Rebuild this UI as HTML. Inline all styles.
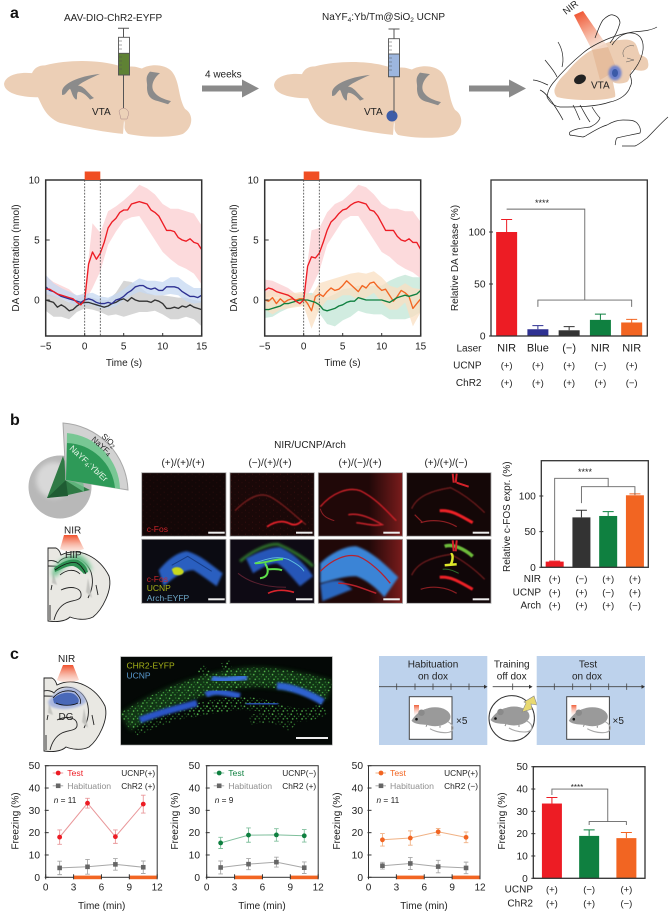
<!DOCTYPE html>
<html lang="en">
<head>
<meta charset="utf-8">
<title>NIR upconversion optogenetics figure</title>
<style>
html,body{margin:0;padding:0;background:#fff;width:672px;height:912px;overflow:hidden}
svg{display:block;font-family:"Liberation Sans",sans-serif}
text{fill:#222;font-size:10px}
</style>
</head>
<body>
<svg id="figure" width="672" height="912" viewBox="0 0 672 912" xmlns="http://www.w3.org/2000/svg">
<defs>
<linearGradient id="coneRed" x1="0" y1="0" x2="0" y2="1"><stop offset="0" stop-color="#f0502c"/><stop offset="1" stop-color="#f7b9a4" stop-opacity=".35"/></linearGradient>
<linearGradient id="nirBeam" x1="0" y1="0" x2="0.45" y2="1"><stop offset="0" stop-color="#ef4a26"/><stop offset=".65" stop-color="#f6b29c"/><stop offset="1" stop-color="#f4d8c8" stop-opacity=".8"/></linearGradient>
<linearGradient id="smallNir" x1="0" y1="0" x2="0" y2="1"><stop offset="0" stop-color="#f0603a"/><stop offset="1" stop-color="#fff" stop-opacity=".2"/></linearGradient>
<linearGradient id="redEdge" x1="0" y1="0" x2="1" y2="0"><stop offset=".6" stop-color="#200808"/><stop offset="1" stop-color="#7a1c1c"/></linearGradient>
<filter id="blur1" x="-30%" y="-30%" width="160%" height="160%"><feGaussianBlur stdDeviation="1"/></filter>
<filter id="blur2" x="-30%" y="-30%" width="160%" height="160%"><feGaussianBlur stdDeviation="2.5"/></filter>
<filter id="blurS" x="-30%" y="-30%" width="160%" height="160%"><feGaussianBlur stdDeviation=".45"/></filter>
<pattern id="greenDots" width="13" height="11" patternUnits="userSpaceOnUse" patternTransform="scale(.72)">
<circle cx="1.5" cy="2" r="1.1" fill="#5cc252"/><circle cx="6" cy="5" r="1" fill="#3c9a3a"/><circle cx="10" cy="1.5" r=".9" fill="#2f8030"/><circle cx="3.5" cy="8.5" r="1.1" fill="#58bf50"/><circle cx="9" cy="8" r="1" fill="#46a844"/><circle cx="12" cy="5" r=".8" fill="#2b702c"/>
</pattern>
<pattern id="redDots" width="7" height="6" patternUnits="userSpaceOnUse">
<circle cx="1.5" cy="1.5" r=".5" fill="#5a1616"/><circle cx="5" cy="4" r=".5" fill="#451010"/>
</pattern>
<clipPath id="clipImgC"><rect x="120.7" y="656.7" width="211.6" height="88.3"/></clipPath>

<g id="sagittalBrain" transform="scale(1 .778)">
<path d="M4,108 C5,98 16,92 32,94 C34,88 38,84 45,84 C70,76 100,77 120,85 L120,97 L127,97 L127,86 C135,84 140,88 142,88 C150,82 165,82 172,92 C180,105 178,125 185,140 C195,148 192,165 183,172 C170,178 140,176 128,172 C122,165 126,160 124,155 L123,172 C105,170 85,165 60,158 C45,150 42,135 38,125 C25,125 5,122 4,108 Z" fill="#eccfb6"/>
<path d="M62,118 C62,108 78,98 100,95 C92,100 84,104 78,110 C84,110 88,120 94,126 L90,128 C86,122 82,118 78,118 C76,122 78,128 76,128 C72,124 72,118 70,114 C66,118 66,122 62,122 Z" fill="#8b8b8b"/>
<path d="M150,92 C144,100 148,106 147,112 C147,122 150,128 158,130 L168,134 L171,130 C164,128 157,124 154,118 C150,110 154,100 160,94 Z" fill="#8b8b8b"/>
</g>

<g id="coronalOutline">
<path d="M48,548 L56,548 C60,550 60,553 61,555 C80,546 100,558 109,576 C113,590 102,610 93,617 C85,621 75,619 70,617 C65,622 55,622 48,621 Z" fill="#e9e8e3" stroke="#222" stroke-width=".9"/>
<path d="M48,561 C52,560 56,561 58,563 C62,557 70,556 77,558 C84,561 88,565 91,572 M48,566 C53,566 58,566 60,567" stroke="#222" stroke-width=".9" fill="none"/>
<path d="M61,590 C72,585 82,588 81,596 C80,601 72,600 66,603 C60,606 56,612 54,620 M91,572 C94,582 92,590 88,598 M96,585 L98,595 M52,585 L51,590 M50,605 L50,620" stroke="#222" stroke-width=".9" fill="none"/>
<path d="M53,572 L57,585 L52,583 Z M88,578 L92,598 L86,592 Z" fill="#c4c4c0" filter="url(#blurS)"/>
</g>

<g id="rodent">
<ellipse cx="0" cy="0" rx="15.5" ry="9.5" fill="#9a9a9a"/>
<path d="M-8,-8 C-14,-7 -20,-2 -23.5,4 C-20,8 -12,8 -4,8 Z" fill="#9a9a9a"/>
<ellipse cx="-13.5" cy="-4" rx="3.2" ry="3.2" fill="#8a8a8a"/>
<circle cx="-18.5" cy="2.5" r="1.3" fill="#111"/>
<path d="M13,5 C20,9 20,16 10,16 C4,16 -2,14 -5,12" fill="none" stroke="#a8a8a8" stroke-width="1.1"/>
<path d="M-8,8 l-1,2 M5,9 l0,2" stroke="#888" stroke-width="1"/>
</g>
</defs>

<!-- PANEL A ILLUSTRATIONS -->
<text x="10" y="18" style="font-size:16px;font-weight:bold;fill:#111">a</text>
<use href="#sagittalBrain"/>
<path d="M119,111 a5,5 0 1,1 9,5 l-1,3 l-6,0 z" fill="#ecd2b8" stroke="#a88" stroke-width=".5"/>
<text x="92" y="115">VTA</text>
<text x="64" y="21">AAV-DIO-ChR2-EYFP</text>
<g>
<path d="M118,28.3 h11 M123.5,28.3 v9 M123.5,75 V108" stroke="#555" stroke-width="1" fill="none"/>
<rect x="118.5" y="37.3" width="11" height="37.7" fill="#fff" stroke="#555" stroke-width=".9"/>
<rect x="118.5" y="53.3" width="11" height="21.7" fill="#5f8234" stroke="#555" stroke-width=".9"/>
<path d="M119,41h3M119,45h3M119,49h3M119,57h3M119,61h3M119,65h3M119,69h3" stroke="#555" stroke-width=".6"/>
</g>
<g><path d="M202,85.5 H242 V79.5 L259,88.5 L242,97.5 V91.5 H202 Z" fill="#8a8a8a"/></g>
<text x="205" y="77.5">4 weeks</text>
<use href="#sagittalBrain" x="270" y="1"/>
<ellipse cx="392" cy="116" rx="5.5" ry="5.5" fill="#3d5da8"/>
<text x="364" y="115">VTA</text>
<text x="322" y="20">NaYF<tspan dy="2" style="font-size:6.5px">4</tspan><tspan dy="-2">:Yb/Tm@SiO</tspan><tspan dy="2" style="font-size:6.5px">2</tspan><tspan dy="-2"> UCNP</tspan></text>
<g>
<path d="M388.5,29 h11 M394,29 v9.7 M394,76.7 V113" stroke="#555" stroke-width="1" fill="none"/>
<rect x="388.5" y="38.7" width="11" height="38" fill="#fff" stroke="#555" stroke-width=".9"/>
<rect x="388.5" y="54" width="11" height="22.7" fill="#9db6de" stroke="#555" stroke-width=".9"/>
<path d="M389,42h3M389,46h3M389,50h3M389,58h3M389,62h3M389,66h3M389,70h3" stroke="#555" stroke-width=".6"/>
</g>
<g><path d="M469,85.5 H509 V79.5 L526,88.5 L509,97.5 V91.5 H469 Z" fill="#8a8a8a"/></g>

<g>
<path d="M555,88 C558,80 563,76 567,72 C575,62 584,54 592,50 C600,46 610,40 620,40 C628,39 632,40 635,43 C638,47 638,52 640,55 C644,56 648,58 648,62 C649,66 648,69 645,70 C640,72 636,69 632,70 C630,74 630,80 627,82 C622,84 616,84 613,82 C614,88 616,94 615,97 C606,100 596,100 587,100 C576,100 565,99 557,97 C554,94 554,90 555,88 Z" fill="#eccdb3"/>
<path d="M592,50 L608,47 L617,70 L600,80 Z" fill="#e6bd9d"/>
<path d="M574,15 L583,11 L608,47 L592,50 Z" fill="url(#nirBeam)"/>
<ellipse cx="615" cy="73" rx="6.5" ry="7.5" fill="#6f82cc" filter="url(#blur1)"/>
<ellipse cx="615" cy="73" rx="3" ry="4" fill="#3b5aa8"/>
<ellipse cx="580" cy="79.3" rx="6.2" ry="4.5" fill="#222" transform="rotate(-25 580 79.3)"/>
<path d="M547,97 C548,90 550,87 553,83 C562,72 572,62 583,53 C590,47 600,42 610,38 C618,35 626,33 633,32 C642,31 650,31 657,27" fill="none" stroke="#222" stroke-width=".7"/>
<path d="M595,38 C598,30 600,24 603,20 C607,16 611,14 613,15 C618,16 620,20 620,23 C618,30 614,38 610,43" fill="none" stroke="#222" stroke-width=".7"/>
<path d="M612,45 C618,36 626,32 632,33 C640,34 644,40 643,50 C642,58 638,66 630,75 C632,80 632,84 630,87 C628,94 620,100 610,102 C596,107 576,107 560,107 C553,106 549,101 547,97" fill="none" stroke="#222" stroke-width=".7"/>
<path d="M558,42 C563,50 564,60 562,67 M545,60 C550,66 555,72 557,77 M533,80 C538,80 543,83 548,85 M540,90 C545,92 549,98 552,102 C556,108 560,114 563,120 M573,105 C576,110 578,116 580,120 M580,105 C584,112 587,118 590,122" fill="none" stroke="#222" stroke-width=".7"/>
<path d="M592,107 C595,112 597,115 600,118 C598,123 594,125 590,127 C584,128 576,128 570,132 C568,135 572,136 570,135 L583,137 C586,136 587,135 587,135 C594,131 600,127 607,125 C612,122 618,120 623,120 C630,120 634,120 637,123 C640,126 641,130 640,133 C632,135 624,136 617,138 C615,140 616,144 615,145 M622,146 L635,146 C640,144 644,140 647,138 C654,131 660,124 668,117" fill="none" stroke="#222" stroke-width=".7"/>
<path d="M624,57 C620,50 628,44 634,46 M627,58 L634,60 L626,62" fill="none" stroke="#555" stroke-width=".5"/>
<text x="591" y="88.5">VTA</text>
<text x="566" y="15" style="font-size:9.5px" transform="rotate(-38 566 15)">NIR</text>
</g>

<!-- PANEL B ILLUSTRATIONS -->
<text x="10" y="425" style="font-size:16px;font-weight:bold;fill:#111">b</text>
<g>
<circle cx="60" cy="487" r="31.5" fill="#b8b8b8"/>
<circle cx="54" cy="480" r="18" fill="#d8d8d8" filter="url(#blur2)"/>
<path d="M63,456 L47,498 L68,495 L90,490 L70,480 Z" fill="#2f7a45"/>
<path d="M47,498 L66,480 L68,496 Z" fill="#1f5c33"/>
<path d="M84,492 A42,42 0 0 0 66,456 L65,480 Z" fill="#6bc088" opacity=".8"/>
<path d="M63,423 A70,70 0 0 1 128,490 L66,480 Z" fill="#d2d2d2" stroke="#a8a8a8" stroke-width="1"/>
<path d="M67,433 A58,58 0 0 1 120,489 L66,480 Z" fill="#78c794"/>
<path d="M67,443 A50,50 0 0 1 115,488 L66,480 Z" fill="#2e9a58"/>
<text x="101" y="437" style="font-size:8px" transform="rotate(42 101 437)">SiO<tspan dy="1.5" style="font-size:6px">2</tspan></text>
<text x="91" y="440" style="font-size:8px" transform="rotate(42 91 440)">NaYF<tspan dy="1.5" style="font-size:6px">4</tspan></text>
<text x="69" y="449" style="font-size:8.5px;fill:#e8f5e8" transform="rotate(43 69 449)">NaYF<tspan dy="1.5" style="font-size:6px;fill:#e8f5e8">4</tspan><tspan dy="-1.5" style="fill:#e8f5e8">:Yb/Er</tspan></text>
</g>
<g>
<use href="#coronalOutline"/>
<path d="M64,535 L77,535 L84,549 C76,552 66,552 60,549 Z" fill="url(#coneRed)"/>
<path d="M52,572 C58,560 70,553 80,555 C86,558 90,564 92,570 C86,572 80,562 74,562 C68,562 60,572 54,578 Z" fill="#6cc18c" filter="url(#blur2)"/>
<path d="M54,568 C62,562 70,558 78,560 C82,562 87,566 88,572 L84,574 C80,570 76,566 72,566 C66,566 60,570 55,572 Z" fill="#2d9152"/>
<path d="M55,570 C62,565 70,561 77,563 C81,565 84,570 86,574 M60,575 C66,570 74,568 80,574" stroke="#111" stroke-width=".8" fill="none"/>
<text x="64" y="533.5">NIR</text>
<text x="65" y="558">HIP</text>
</g>

<text x="310" y="448" text-anchor="middle">NIR/UCNP/Arch</text>
<text x="183" y="466" text-anchor="middle">(+)/(+)/(+)</text>
<text x="270" y="466" text-anchor="middle">(−)/(+)/(+)</text>
<text x="360" y="466" text-anchor="middle">(+)/(−)/(+)</text>
<text x="446" y="466" text-anchor="middle">(+)/(+)/(−)</text>

<!-- Microscopy: top row -->
<g transform="translate(141.7 472.7)">
<rect width="84.3" height="63.5" fill="#130707" stroke="#a8a8a8" stroke-width=".8"/>
<rect width="84.3" height="63.5" fill="url(#redDots)" opacity=".45"/>
<rect x="66.5" y="59" width="16.5" height="2" fill="#eee"/>
<text x="5" y="59.5" style="font-size:8.5px;fill:#c8242a">c-Fos</text>
</g>
<g transform="translate(230 472.7)">
<rect width="84.3" height="63.5" fill="#1a0808" stroke="#a8a8a8" stroke-width=".8"/>
<rect width="84.3" height="63.5" fill="url(#redDots)" opacity=".6"/>
<path d="M5,38 C15,28 28,18 40,24 C52,30 66,44 76,52" fill="none" stroke="#6e1d1d" stroke-width="1.5" filter="url(#blurS)"/>
<path d="M37,54 C46,48 54,48 60,51 C64,53 68,52 72,48" fill="none" stroke="#e8232a" stroke-width="1.8" filter="url(#blurS)"/>
<rect x="66" y="59" width="16.5" height="2" fill="#eee"/>
</g>
<g transform="translate(318.3 472.7)">
<rect width="84.3" height="63.5" fill="url(#redEdge)" stroke="#a8a8a8" stroke-width=".8"/>
<path d="M2,34 C14,20 30,14 42,18 C58,26 68,38 78,48" fill="none" stroke="#d6222a" stroke-width="1.3" filter="url(#blurS)"/>
<path d="M2,36 C4,44 10,46 16,48" fill="none" stroke="#8c1f24" stroke-width="1"/>
<path d="M30,42 C42,40 54,46 64,52 C54,54 44,50 38,50" fill="none" stroke="#c9242a" stroke-width="1.5" filter="url(#blurS)"/>
<rect x="65" y="59" width="16.5" height="2" fill="#eee"/>
</g>
<g transform="translate(406.7 472.7)">
<rect width="84.3" height="63.5" fill="#140707" stroke="#a8a8a8" stroke-width=".8"/>
<path d="M5,36 C10,24 24,18 44,15 C58,22 70,32 78,40" fill="none" stroke="#6e1a1e" stroke-width="1.3" filter="url(#blurS)"/>
<path d="M46,1 L47,10 M50,1 L49,10 M50,10 L62,14" stroke="#d4222a" stroke-width="2" fill="none"/>
<path d="M33,38 C44,37 52,42 66,50" fill="none" stroke="#ed2028" stroke-width="3" filter="url(#blurS)"/>
<path d="M14,50 C26,46 40,48 50,54 M8,42 L16,50" fill="none" stroke="#8c1e22" stroke-width="1.2"/>
<rect x="66" y="59" width="16.5" height="2" fill="#eee"/>
</g>
<!-- Microscopy: bottom row -->
<g transform="translate(141.7 539.3)">
<rect width="84.3" height="64" fill="#0b0b12" stroke="#a8a8a8" stroke-width=".8"/>
<path d="M17,31 C26,20 36,13 45,12 C58,15 70,26 81,34 L75,47 C68,42 60,36 52,31 C42,30 30,40 22,47 Z" fill="#2a5fc0" filter="url(#blur1)"/>
<path d="M30,26 L46,17 L70,32" stroke="#173c86" stroke-width="1" fill="none"/>
<path d="M30,30 C34,26 40,28 42,32 C42,36 36,37 32,35 Z" fill="#c8d81e" filter="url(#blurS)"/>
<rect x="66.5" y="59" width="16.5" height="2" fill="#eee"/>
<text x="5" y="42.5" style="font-size:8.5px;fill:#c8242a">c-Fos</text>
<text x="5" y="51.5" style="font-size:8.5px;fill:#a8b418">UCNP</text>
<text x="5" y="61.5" style="font-size:8.5px;fill:#6ea8c8">Arch-EYFP</text>
</g>
<g transform="translate(230 539.3)">
<rect width="84.3" height="64" fill="#0e0a14" stroke="#a8a8a8" stroke-width=".8"/>
<path d="M10,22 C22,12 38,4 48,5 C60,10 74,18 83,27" fill="none" stroke="#2e6e2a" stroke-width="3" filter="url(#blur1)"/>
<path d="M16,19 C28,13 40,8 50,8 C64,14 76,26 83,37 L70,47 C62,38 54,28 47,24 C38,24 30,30 23,34 Z" fill="#2857b8" filter="url(#blur1)"/>
<path d="M24,24 C36,20 46,16 58,20 C66,24 72,28 74,32" stroke="#60c0e0" stroke-width=".9" fill="none"/>
<path d="M25,24 C34,24 44,20 53,20 M35,24 C40,32 38,38 30,39 M38,30 C44,30 48,29 52,31" stroke="#5ee04a" stroke-width="2" fill="none"/>
<path d="M8,34 C18,42 34,48 56,48" stroke="#5a2030" stroke-width="1" fill="none"/>
<path d="M38,54 C46,50 54,50 64,53" stroke="#d8242c" stroke-width="1.6" fill="none"/>
<rect x="66" y="59" width="16.5" height="2" fill="#eee"/>
</g>
<g transform="translate(318.3 539.3)">
<rect width="84.3" height="64" fill="url(#redEdge)" stroke="#a8a8a8" stroke-width=".8"/>
<path d="M2,24 C12,14 28,6 38,7 C54,12 70,28 80,38 L66,58 C56,46 46,40 38,37 C26,36 12,42 2,44 Z" fill="#3a84d6" filter="url(#blur1)"/>
<path d="M2,45 C10,42 18,40 24,42 L34,50 L4,62 Z" fill="#2a68c0" filter="url(#blur1)"/>
<path d="M2,32 C14,20 28,14 40,17 C52,22 64,34 72,44" fill="none" stroke="#b52230" stroke-width="1.3"/>
<path d="M20,44 C34,44 46,50 58,54" fill="none" stroke="#b5202a" stroke-width="1.5"/>
<rect x="65" y="59" width="16.5" height="2" fill="#eee"/>
</g>
<g transform="translate(406.7 539.3)">
<rect width="84.3" height="64" fill="#100608" stroke="#a8a8a8" stroke-width=".8"/>
<path d="M5,36 C10,24 24,18 44,15 C58,22 70,32 78,40" fill="none" stroke="#6e1a1e" stroke-width="1.3" filter="url(#blurS)"/>
<path d="M38,7 C46,4 58,10 66,17" stroke="#6dbb3a" stroke-width="3.5" fill="none" filter="url(#blurS)"/>
<path d="M46,1 L47,12 M50,1 L49,12" stroke="#d4222a" stroke-width="2" fill="none"/>
<path d="M44,15 C47,14 46,22 44,25 M38,26 L50,25" stroke="#dfe82a" stroke-width="2.5" fill="none"/>
<path d="M36,30 C42,29 48,32 52,34" stroke="#2e6e2a" stroke-width="1" fill="none"/>
<path d="M33,38 C44,37 52,42 66,50" fill="none" stroke="#ed2028" stroke-width="3" filter="url(#blurS)"/>
<path d="M14,50 C26,46 40,48 50,54" fill="none" stroke="#8c1e22" stroke-width="1.2"/>
<rect x="66" y="59" width="16.5" height="2" fill="#eee"/>
</g>

<!-- PANEL C ILLUSTRATIONS -->
<text x="10" y="659" style="font-size:16px;font-weight:bold;fill:#111">c</text>
<g>
<use href="#coronalOutline" x="-4" y="130"/>
<path d="M63,665 L73,665 L79,680 C72,683 62,683 57,680 Z" fill="url(#coneRed)"/>
<path d="M48,702 C54,692 64,686 74,688 C82,692 86,698 86,702 C80,708 62,712 50,706 Z" fill="#a9b6de" filter="url(#blur1)"/>
<path d="M53,699 C58,694 66,691 74,694 C78,697 80,700 78,703 C70,707 60,706 54,703 Z" fill="#4968b8"/>
<path d="M53,698 C58,692 66,689 75,692 C79,696 82,700 80,704 M56,703 C62,706 72,706 78,703" stroke="#111" stroke-width=".8" fill="none"/>
<text x="58" y="662">NIR</text>
<text x="58.5" y="720">DG</text>
</g>
<g>
<rect x="120.7" y="656.7" width="211.6" height="88.3" fill="#040806" stroke="#999" stroke-width=".6"/>
<g clip-path="url(#clipImgC)">
<path d="M125,722 C160,700 185,690 215,683 S265,672 330,690" fill="none" stroke="#1c5a20" stroke-width="20" opacity=".55" filter="url(#blur2)"/>
<path d="M125,722 C160,700 185,690 215,683 S265,672 330,690" fill="none" stroke="url(#greenDots)" stroke-width="20"/>
<path d="M190,712 C210,706 240,700 265,706 S300,722 325,708" fill="none" stroke="url(#greenDots)" stroke-width="13"/>
<path d="M225,662 L235,690 M200,668 L210,676" fill="none" stroke="url(#greenDots)" stroke-width="9"/>
<path d="M135,732 C165,716 195,708 228,708 M250,720 C270,715 285,720 292,728" fill="none" stroke="url(#greenDots)" stroke-width="10" opacity=".8"/>
<path d="M140,720 C160,712 180,708 197,703" fill="none" stroke="#2a55c8" stroke-width="6.5" filter="url(#blur1)"/>
<path d="M206,695 C214,690 222,692 240,696" fill="none" stroke="#2f5ccc" stroke-width="6" filter="url(#blur1)"/>
<path d="M212,678 C222,682 236,678 247,677" fill="none" stroke="#3a70d8" stroke-width="6" filter="url(#blur1)"/>
<path d="M277,686 C290,686 310,694 323,702" fill="none" stroke="#2f62d0" stroke-width="7" filter="url(#blur1)"/>
<path d="M246,704 C256,704 268,703 278,704" fill="none" stroke="#2a55b8" stroke-width="4" filter="url(#blur1)"/>
</g>
<rect x="296" y="737" width="32" height="2" fill="#eee"/>
<text x="126.5" y="668.5" style="font-size:8.5px;fill:#a8b418">CHR2-EYFP</text>
<text x="126.5" y="678.5" style="font-size:8.5px;fill:#5a9ad0">UCNP</text>
</g>

<g>
<rect x="379" y="656" width="108.3" height="89" fill="#bdd2ec"/>
<text x="433" y="667.5" text-anchor="middle">Habituation</text>
<text x="433" y="679.5" text-anchor="middle">on dox</text>
<path d="M379,686.7 H485 M396.7,683.5v6.4 M415,683.5v6.4 M433,683.5v6.4 M451,683.5v6.4 M469,683.5v6.4" stroke="#444" stroke-width=".8"/>
<path d="M484,684.7 L487.5,686.7 L484,688.7Z" fill="#333"/>
<rect x="409.3" y="696.7" width="42.7" height="42.6" fill="#fff" stroke="#444" stroke-width="1"/>
<rect x="414" y="705" width="5" height="12" fill="url(#smallNir)"/>
<use href="#rodent" x="435" y="716.7"/>
<text x="456" y="724">×5</text>
</g>
<g>
<text x="511.7" y="667.5" text-anchor="middle">Training</text>
<text x="511.7" y="679.5" text-anchor="middle">off dox</text>
<path d="M492.7,686.7 H530 M512.7,683.5v6.4" stroke="#444" stroke-width=".8"/>
<path d="M529,684.7 L532.5,686.7 L529,688.7Z" fill="#333"/>
<circle cx="511.7" cy="718.3" r="22.7" fill="#fff" stroke="#333" stroke-width="1"/>
<use href="#rodent" x="514" y="716"/>
<path d="M534,696 L537,705 L531,704 L532,709 L522,712 L526,703 L524,702 Z" fill="#e8d970" stroke="#888" stroke-width=".6"/>
</g>
<g>
<rect x="536.7" y="656" width="108.3" height="89" fill="#bdd2ec"/>
<text x="588" y="667.5" text-anchor="middle">Test</text>
<text x="587" y="679.5" text-anchor="middle">on dox</text>
<path d="M536.7,686.7 H643 M554.3,683.5v6.4 M572.7,683.5v6.4 M590.7,683.5v6.4 M608.7,683.5v6.4 M626.7,683.5v6.4" stroke="#444" stroke-width=".8"/>
<path d="M641.5,684.7 L645,686.7 L641.5,688.7Z" fill="#333"/>
<rect x="566.7" y="696.7" width="42.7" height="42.6" fill="#fff" stroke="#444" stroke-width="1"/>
<rect x="571.4" y="705" width="5" height="12" fill="url(#smallNir)"/>
<use href="#rodent" x="592.3" y="716.7"/>
<text x="612.5" y="724">×5</text>
</g>

<g id="charts"></g>
</svg>

<script>
// ---- Dopamine traces, sampled every 0.5 s from -5 to 15 s ----
const a1RedMean = [0.9,0.9,0.7,0.5,0.4,0.3,0.2,0.1,-0.2,-0.4,0.0,3.0,4.0,3.4,3.9,4.8,6.0,6.5,6.8,7.3,7.5,7.5,8.0,8.1,8.2,8.1,8.0,7.5,7.3,7.0,6.4,5.8,5.8,5.7,5.2,5.0,4.9,5.1,4.8,4.7,4.2];
const a1BlueMean = [1.1,0.8,0.7,0.5,0.3,0.2,0.1,0.0,-0.1,-0.2,0.0,0.1,0.0,-0.2,-0.3,-0.3,-0.2,-0.3,0.0,0.1,0.3,0.6,0.8,1.1,1.2,1.2,1.0,0.9,1.0,0.8,0.8,1.1,1.1,1.1,1.0,0.7,0.5,0.3,0.3,0.2,0.4];
const a1BlackMean = [0.0,-0.1,-0.2,-0.6,-0.4,-0.6,-0.9,-0.8,-0.5,-0.3,-0.2,-0.2,-0.3,-0.4,-0.5,-0.6,-0.5,-0.3,-0.2,0.0,0.1,-0.1,0.2,0.0,-0.1,-0.1,-0.1,-0.2,0.0,-0.1,-0.3,-0.7,-0.7,-0.6,-0.7,-0.5,-0.6,-0.4,-0.6,-0.7,-0.8];
const a2RedMean = [0.8,1.0,0.9,0.7,0.6,0.5,0.4,0.2,-0.1,-0.3,0.0,2.8,3.6,3.5,3.9,4.8,5.8,6.5,6.8,7.2,7.5,7.6,7.9,8.1,8.2,8.1,8.0,7.5,7.4,7.0,6.4,5.8,5.8,5.8,5.3,5.0,4.9,5.1,4.8,4.8,4.2];
const a2GreenMean = [-0.8,-0.8,-0.7,-0.6,-0.5,-0.3,-0.3,-0.2,-0.1,0.0,0.0,0.0,-0.1,-0.2,-0.4,-0.8,-0.9,-0.8,-0.7,-0.5,-0.4,-0.2,-0.1,-0.1,0.2,0.1,0.0,0.0,0.0,0.0,0.0,-0.1,-0.2,0.0,0.2,0.3,0.4,0.3,0.4,0.5,0.8];
const a2OrangeMean = [0.0,-0.1,0.2,-0.3,0.1,-0.2,0.0,0.1,0.0,0.1,0.1,-0.3,-0.9,0.3,0.5,0.3,0.7,1.0,0.8,0.9,1.2,1.6,1.3,1.0,0.7,1.2,1.0,1.4,1.5,1.1,0.8,0.9,0.4,-0.1,0.3,0.8,0.6,0.3,-0.7,-0.3,0.1];
// ---- SEM bands, sampled every 1 s from -5 to 15 s ----
const a1RedHi = [2.0,1.5,1.2,0.9,0.3,0.6,6.4,5.6,7.4,7.8,8.3,8.9,9.6,9.3,8.8,8.0,7.6,7.6,7.4,7.2,6.2];
const a1RedLo = [0.3,0.3,0.1,-0.1,-0.6,-0.2,1.0,2.4,4.6,5.7,6.6,6.9,7.0,6.0,5.0,4.0,3.4,2.9,2.6,2.2,1.3];
const a1BlueHi = [2.1,1.4,1.0,0.7,0.4,0.5,0.6,0.3,0.2,0.5,0.9,1.4,1.8,1.6,1.6,1.5,1.9,1.9,1.4,1.0,1.0];
const a1BlueLo = [0.5,0.3,0.1,-0.2,-0.5,-0.4,-0.4,-0.7,-0.7,-0.5,0.0,0.4,0.7,0.5,0.4,0.4,0.5,0.4,-0.1,-0.3,-0.2];
const a1GreyHi = [0.7,0.4,0.1,-0.2,0.1,0.3,0.2,0.0,0.0,0.6,1.6,1.5,1.1,0.6,0.4,0.4,0.3,0.2,0.2,0.0,-0.1];
const a1GreyLo = [-0.9,-1.4,-1.4,-1.6,-1.0,-0.7,-0.8,-1.0,-1.3,-1.2,-1.4,-1.2,-1.0,-1.0,-0.9,-1.2,-1.6,-1.6,-1.4,-1.6,-2.2];
const a2RedHi = [1.7,1.6,1.3,1.0,0.5,0.5,5.8,6.0,7.3,8.0,8.3,8.9,9.6,9.4,8.8,8.0,7.6,7.6,7.4,7.4,6.5];
const a2RedLo = [0.2,0.3,0.2,0.0,-0.5,-0.2,1.0,2.4,4.6,5.6,6.6,7.0,7.0,6.0,5.0,4.0,3.6,3.0,2.6,2.3,1.8];
const a2GreenHi = [0.1,0.1,0.1,0.2,0.3,0.5,0.6,0.3,0.2,0.5,0.9,1.0,1.2,1.1,1.2,1.2,1.6,1.9,2.1,1.9,1.9];
const a2GreenLo = [-1.5,-1.4,-1.0,-0.7,-0.5,-0.4,-0.5,-1.1,-2.0,-2.2,-1.7,-1.4,-0.9,-1.1,-1.2,-1.2,-1.6,-1.6,-1.6,-1.4,-1.0];
const a2OrangeHi = [0.6,0.9,0.7,0.6,0.6,0.7,0.4,1.4,1.6,1.8,2.0,2.2,2.3,2.2,2.4,1.9,1.2,1.0,1.4,1.0,0.9];
const a2OrangeLo = [-0.8,-1.2,-0.8,-0.7,-0.6,-0.5,-2.4,-0.8,0.0,0.0,0.4,0.4,0.0,0.2,0.6,-0.2,-0.8,-0.8,-0.2,-2.2,-1.0];
const daTimeTicks = [-5,0,5,10,15];
const daTimeLabels = ['−5','0','5','10','15'];
const daValueTicks = [0,5,10];

// ---- DA release bars ----
const daCategories = ['NIR/+/+','Blue/+/+','None/+/+','NIR/-/+','NIR/+/-'];
const daRelease = [100,6.5,5.5,15.5,13];
const daReleaseErrTop = [112,10,9,21,16];
const daLaser = ['NIR','Blue','(−)','NIR','NIR'];
const daUcnp = ['(+)','(+)','(+)','(−)','(+)'];
const daChr2 = ['(+)','(+)','(+)','(+)','(−)'];
const daRowLabels = ['Laser','UCNP','ChR2'];
const daBarTicks = [0,50,100];

// ---- c-FOS bars ----
const fosCategories = ['control','no-NIR','no-UCNP','no-Arch'];
const fosValues = [8,70,72,101];
const fosErrTop = [8.7,80,78,103];
const fosNir = ['(+)','(−)','(+)','(+)'];
const fosUcnp = ['(+)','(+)','(−)','(+)'];
const fosArch = ['(+)','(+)','(+)','(−)'];
const fosRowLabels = ['NIR','UCNP','Arch'];
const fosTicks = [0,50,100];

// ---- Freezing time courses ----
const freezeTimes = [1.5,4.5,7.5,10.5];
const freezeTimeTicks = [0,3,6,9,12];
const freezeValueTicks = [0,10,20,30,40,50];
const lightOnStart = [3,9];
const lightOnEnd = [6,12];
const c1Test = [18,33.2,18.2,32.8];
const c1TestErr = [3.2,2.2,3,4];
const c1Hab = [4.2,4.7,5.8,4.5];
const c1HabErr = [3,3.3,2.6,2.8];
const c2Test = [15.4,18.9,19,18.6];
const c2TestErr = [2.5,3.2,2.8,2.8];
const c2Hab = [4.4,5.9,6.8,4.3];
const c2HabErr = [2.9,2.5,2.2,2.6];
const c3Test = [16.8,17.6,20.4,17.9];
const c3TestErr = [2.8,3.2,1.5,2.4];
const c3Hab = [5.2,6.2,4.8,4.2];
const c3HabErr = [1.5,2.7,2.8,2.6];

// ---- Freezing summary bars ----
const sumCategories = ['UCNP+ChR2+','UCNP-ChR2+','UCNP+ChR2-'];
const sumValues = [33.5,19,18];
const sumErrTop = [36.2,21.7,20.5];
const sumUcnp = ['(+)','(−)','(+)'];
const sumChr2 = ['(+)','(+)','(−)'];
const sumRowLabels = ['UCNP','ChR2'];
const sumTicks = [0,10,20,30,40,50];

const RED='#ed1c24', BLUE='#2e3192', DARK='#333333', GREEN='#0f8040', ORANGE='#f26522', AXIS='#333';
const NS='http://www.w3.org/2000/svg';
const root=document.getElementById('charts');

function mk(tag,attrs,parent){
  const el=document.createElementNS(NS,tag);
  for(const k in attrs){el.setAttribute(k,attrs[k]);}
  (parent||root).appendChild(el);
  return el;
}
function txt(parent,x,y,str,anchor,size,color,rot){
  const el=mk('text',{x:x,y:y,'text-anchor':anchor||'start'},parent);
  el.setAttribute('style','font-size:'+(size||10)+'px;fill:'+(color||'#222'));
  if(rot){el.setAttribute('transform','rotate('+rot+' '+x+' '+y+')');}
  el.textContent=str;
  return el;
}
function linear(d0,d1,r0,r1){return function(v){return r0+(v-d0)*(r1-r0)/(d1-d0);};}
function frame(parent,x0,y0,w,h,sw){
  const r=mk('rect',{x:x0,y:y0,width:w,height:h,fill:'none',stroke:AXIS,'stroke-width':sw},parent);
  
  
}
function linePath(values,x,y,tMin,tMax){
  return values.map(function(v,i){
    const t=tMin+(tMax-tMin)*i/(values.length-1);
    return (i?'L':'M')+x(t).toFixed(2)+','+y(v).toFixed(2);
  }).join('');
}
function bandPath(hi,lo,x,y,tMin,tMax){
  const up=linePath(hi,x,y,tMin,tMax);
  const down=lo.slice().reverse().map(function(v,i){
    const t=tMax-(tMax-tMin)*i/(lo.length-1);
    return 'L'+x(t).toFixed(2)+','+y(v).toFixed(2);
  }).join('');
  return up+down+'Z';
}

function daChart(name,x0,xTitle,titleX,bands,traces){
  const g=mk('g',{});
  
  
  const y0=180,h=156,w=156;
  const x=linear(-5,15,x0,x0+w);
  const y=linear(-3,10,y0+h,y0);
  bands.forEach(function(b){
    const p=mk('path',{d:bandPath(b.hi,b.lo,x,y,-5,15),fill:b.color,opacity:b.op},g);
    
    
  });
  traces.forEach(function(t){
    const p=mk('path',{d:linePath(t.values,x,y,-5,15),fill:'none',stroke:t.color,'stroke-width':1.35,'stroke-linejoin':'round'},g);
    
    
  });
  frame(g,x0,y0,w,h,1.5);
  const light=mk('rect',{x:x(0),y:y0-8.5,width:x(2)-x(0),height:8.5,fill:'#f04e23'},g);
  
  
  [0,2].forEach(function(t){
    const l=mk('line',{x1:x(t),x2:x(t),y1:y0,y2:y0+h,stroke:'#444','stroke-width':.8,'stroke-dasharray':'1.8 1.4'},g);
    
    
  });
  daTimeTicks.forEach(function(t,i){
    const k=mk('line',{x1:x(t),x2:x(t),y1:y0+h,y2:y0+h-3,stroke:AXIS,'stroke-width':1},g);
    
    
    const lb=txt(g,x(t),y0+h+13.5,daTimeLabels[i],'middle',10);
    
    
  });
  daValueTicks.forEach(function(v){
    const k=mk('line',{x1:x0,x2:x0+4,y1:y(v),y2:y(v),stroke:AXIS,'stroke-width':1},g);
    
    
    const lb=txt(g,x0-6,y(v)+3.5,String(v),'end',10);
    
    
  });
  const xt=txt(g,xTitle,366,'Time (s)','middle',10);
  
  
  const yt=txt(g,titleX,258,'DA concentration (nmol)','middle',10,'#222',-90);
  
  
}

daChart('da-trace-chart-1',45.7,124,19,[
  {id:'red',hi:a1RedHi,lo:a1RedLo,color:'#fbd3d6',op:.85},
  {id:'grey',hi:a1GreyHi,lo:a1GreyLo,color:'#c8c8c8',op:.75},
  {id:'blue',hi:a1BlueHi,lo:a1BlueLo,color:'#c6d8f2',op:.75}
],[
  {id:'black',values:a1BlackMean,color:DARK},
  {id:'blue',values:a1BlueMean,color:BLUE},
  {id:'red',values:a1RedMean,color:RED}
]);
daChart('da-trace-chart-2',264.7,342.5,237,[
  {id:'red',hi:a2RedHi,lo:a2RedLo,color:'#fbd3d6',op:.85},
  {id:'green',hi:a2GreenHi,lo:a2GreenLo,color:'#c2e6d6',op:.75},
  {id:'orange',hi:a2OrangeHi,lo:a2OrangeLo,color:'#fadfc2',op:.75}
],[
  {id:'orange',values:a2OrangeMean,color:ORANGE},
  {id:'green',values:a2GreenMean,color:GREEN},
  {id:'red',values:a2RedMean,color:RED}
]);

function barChart(name,x0,y0,w,h,yMax,ticks,cats,vals,errs,colors,barW){
  const g=mk('g',{});
  
  
  const y=linear(0,yMax,y0+h,y0);
  const step=w/cats.length;
  const cx=function(i){return x0+step*(i+.5);};
  cats.forEach(function(c,i){
    const er=mk('path',{d:'M'+cx(i)+','+y(vals[i])+'V'+y(errs[i])+'M'+(cx(i)-5.5)+','+y(errs[i])+'H'+(cx(i)+5.5),stroke:colors[i],'stroke-width':1,fill:'none'},g);
    
    
    const b=mk('rect',{x:cx(i)-barW/2,y:y(vals[i]),width:barW,height:y(0)-y(vals[i]),fill:colors[i]},g);
    
    
  });
  frame(g,x0,y0,w,h,1.3);
  ticks.forEach(function(v){
    const k=mk('line',{x1:x0-2,x2:x0+2,y1:y(v),y2:y(v),stroke:AXIS,'stroke-width':1},g);
    
    
    const lb=txt(g,x0-5.5,y(v)+3.5,String(v),'end',10.2);
    
    
  });
  return {g:g,y:y,cx:cx};
}
function bracket(c,xa,xb,yVal,dropA,dropB){
  const d='M'+xa+','+c.y(dropA)+'V'+c.y(yVal)+'H'+xb+'V'+c.y(dropB);
  const p=mk('path',{d:d,fill:'none',stroke:'#666','stroke-width':.9},c.g);
  
  
}
function rowLabels(c,names,rows,rowY,labelX,sizes){
  names.forEach(function(n,r){
    const lb=txt(c.g,labelX,rowY[r],n,'end',10);
    
    
    rows[r].forEach(function(s,i){
      const t=txt(c.g,c.cx(i),rowY[r],s,'middle',sizes[r]);
      
      
    });
  });
}

const barA=barChart('da-release-bars',491,180,156.3,156,150,daBarTicks,daCategories,daRelease,daReleaseErrTop,[RED,BLUE,DARK,GREEN,ORANGE],21);
bracket(barA,barA.cx(0),(barA.cx(2)+barA.cx(3))/2,122,122,34.6);
bracket(barA,barA.cx(1),barA.cx(4),34.6,28,28);
rowLabels(barA,daRowLabels,[daLaser,daUcnp,daChr2],[351.5,368.5,386],481.5,[11,9.5,9.5]);
const titleA=txt(barA.g,458,258,'Relative DA release (%)','middle',10,'#222',-90);


const starsA=txt(barA.g,542,206,'****','middle',9);



const barB=barChart('cfos-bars',541.3,460.7,107,106.6,149.5,fosTicks,fosCategories,fosValues,fosErrTop,[RED,DARK,GREEN,ORANGE],18);
bracket(barB,barB.cx(0),barB.cx(2),124.8,10,113);
bracket(barB,barB.cx(1),barB.cx(3),113,90,102);
rowLabels(barB,fosRowLabels,[fosNir,fosUcnp,fosArch],[582,595.5,608.5],541,[9.5,9.5,9.5]);
const titleB=txt(barB.g,510,516.7,'Relative c-FOS expr. (%)','middle',10,'#222',-90);


const starsB=txt(barB.g,585,475,'****','middle',9);



function freezeChart(name,x0,labelX,titleX,timeX,testColor,testLine,test,testErr,hab,habErr,ucnpTxt,chrTxt,nVal){
  const g=mk('g',{});
  
  
  const y0=765.7,h=111.6,w=111.5;
  const x=linear(0,12,x0,x0+w);
  const y=linear(0,50,y0+h,y0);
  frame(g,x0,y0,w,h,1);
  lightOnStart.forEach(function(s,i){
    const b=mk('rect',{x:x(s),y:y0+h-1.7,width:x(lightOnEnd[i])-x(s),height:3.6,fill:ORANGE},g);
    
    
  });
  freezeTimeTicks.forEach(function(t){
    const k=mk('line',{x1:x(t),x2:x(t),y1:y0+h+2,y2:y0+h-3,stroke:AXIS,'stroke-width':1},g);
    
    
    const lb=txt(g,x(t),890.5,String(t),'middle',10);
    
    
  });
  freezeValueTicks.forEach(function(v){
    const k=mk('line',{x1:x0-1,x2:x0+3,y1:y(v),y2:y(v),stroke:AXIS,'stroke-width':1},g);
    
    
    const lb=txt(g,labelX,y(v)+3.5,String(v),'end',10.2);
    
    
  });
  const series=[{id:'habituation',v:hab,e:habErr,c:'#666',l:'#a8a8a8',sq:true},{id:'test',v:test,e:testErr,c:testColor,l:testLine,sq:false}];
  series.forEach(function(s){
    const d=s.v.map(function(v,i){return (i?'L':'M')+x(freezeTimes[i])+','+y(v);}).join('');
    const ln=mk('path',{d:d,fill:'none',stroke:s.l,'stroke-width':1},g);
    
    
    s.v.forEach(function(v,i){
      const px=x(freezeTimes[i]);
      const er=mk('path',{d:'M'+px+','+y(v-s.e[i])+'V'+y(v+s.e[i])+'M'+(px-2.3)+','+y(v-s.e[i])+'h4.6M'+(px-2.3)+','+y(v+s.e[i])+'h4.6',fill:'none',stroke:s.l,'stroke-width':.9},g);
      
      
      const m=s.sq?mk('rect',{x:px-2.3,y:y(v)-2.3,width:4.6,height:4.6,fill:s.c},g):mk('circle',{cx:px,cy:y(v),r:2.4,fill:s.c},g);
      
      
    });
  });
  const leg1=mk('line',{x1:x0+7,x2:x0+17.5,y1:773,y2:773,stroke:testLine,'stroke-width':1},g);
  
  
  const leg1m=mk('circle',{cx:x0+12.5,cy:773,r:2.4,fill:testColor},g);
  
  
  const leg2=mk('line',{x1:x0+7,x2:x0+17.5,y1:785.8,y2:785.8,stroke:'#a8a8a8','stroke-width':1},g);
  
  
  const leg2m=mk('rect',{x:x0+10.2,y:783.5,width:4.6,height:4.6,fill:'#666'},g);
  
  
  const t1=txt(g,x0+21.5,776,'Test','start',8.7,testColor);
  
  
  const t2=txt(g,x0+21.5,789,'Habituation','start',8.7,'#8f8f8f');
  
  
  const t3=txt(g,x0+w-2,776,ucnpTxt,'end',8.3);
  
  
  const t4=txt(g,x0+w-2,789,chrTxt,'end',8.3);
  
  
  const t5=txt(g,x0+8,803,'','start',8.3);
  
  
  t5.innerHTML='<tspan font-style="italic">n</tspan> = '+nVal;
  const xt=txt(g,timeX,909,'Time (min)','middle',10);
  
  
  const yt=txt(g,titleX,821,'Freezing (%)','middle',10,'#222',-90);
  
  
}
freezeChart('freezing-chart-1',45.7,40,18.5,101.7,RED,'#e9979a',c1Test,c1TestErr,c1Hab,c1HabErr,'UCNP(+)','ChR2 (+)','11');
freezeChart('freezing-chart-2',206.7,200,178,262,GREEN,'#7fbf9c',c2Test,c2TestErr,c2Hab,c2HabErr,'UCNP(−)','ChR2 (+)','9');
freezeChart('freezing-chart-3',368.5,363,340,424,ORANGE,'#f0b184',c3Test,c3TestErr,c3Hab,c3HabErr,'UCNP(+)','ChR2 (−)','11');

const barC=barChart('freezing-summary-bars',533.3,766.7,111.7,111.6,50,sumTicks,sumCategories,sumValues,sumErrTop,[RED,GREEN,ORANGE],20);
bracket(barC,barC.cx(0),(barC.cx(1)+barC.cx(2))/2,40,37.3,25.4);
bracket(barC,barC.cx(1),barC.cx(2),25.4,23.9,23.9);
rowLabels(barC,sumRowLabels,[sumUcnp,sumChr2],[892.5,906.5],533,[9.5,9.5]);
const titleC=txt(barC.g,505,821,'Freezing (%)','middle',10,'#222',-90);


const starsC=txt(barC.g,577,790,'****','middle',8);


</script>
</body>
</html>
